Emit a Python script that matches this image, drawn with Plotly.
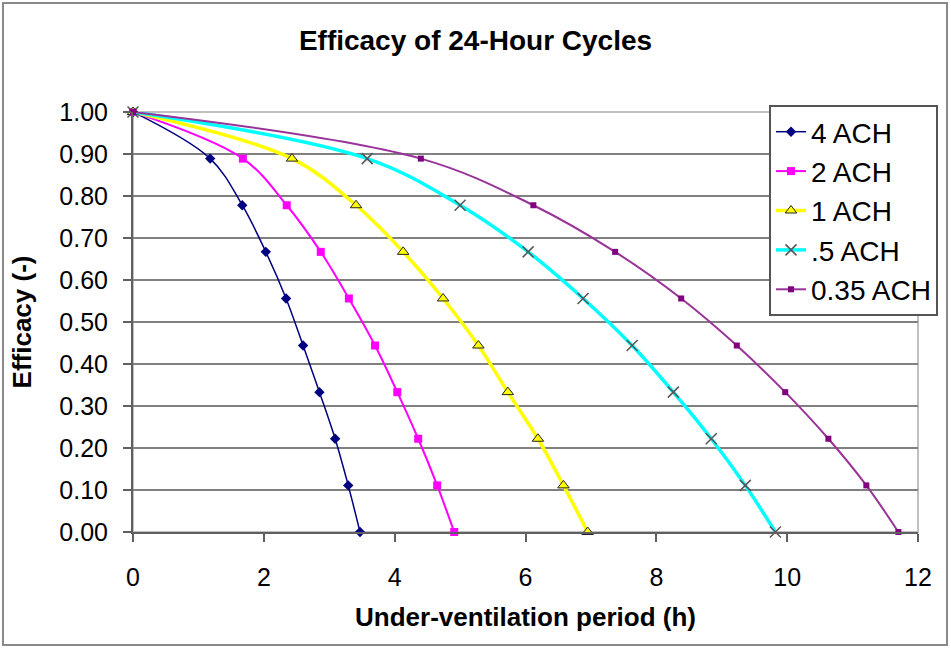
import plotly.graph_objects as go

# efficacy levels shared by all series
efficacy = [1.0, 0.889, 0.778, 0.667, 0.556, 0.444, 0.333, 0.222, 0.111, 0.0]

# under-ventilation period (h) per air change rate
hours_4ach = [0, 1.18, 1.67, 2.03, 2.34, 2.60, 2.85, 3.09, 3.29, 3.47]
hours_2ach = [0, 1.68, 2.35, 2.87, 3.30, 3.70, 4.04, 4.36, 4.65, 4.91]
hours_1ach = [0, 2.43, 3.41, 4.13, 4.74, 5.28, 5.73, 6.19, 6.58, 6.95]
hours_05ach = [0, 3.58, 5.00, 6.04, 6.88, 7.63, 8.26, 8.84, 9.36, 9.82]
hours_035ach = [0, 4.40, 6.12, 7.37, 8.38, 9.23, 9.97, 10.63, 11.21, 11.70]

series_names = ["4 ACH", "2 ACH", "1 ACH", ".5 ACH", "0.35 ACH"]
x_ticks = [0, 2, 4, 6, 8, 10, 12]

FONT = "Liberation Sans, Arial, sans-serif"
W, H = 951, 648
L, R, T, B = 133, 33, 112, 116

styles = [
    dict(line=dict(color="#000080", width=1.5),
         marker=dict(symbol="diamond", size=8, color="#000080")),
    dict(line=dict(color="#FF00FF", width=2),
         marker=dict(symbol="square", size=8, color="#FF00FF")),
    dict(line=dict(color="#FFFF00", width=3.5),
         marker=dict(symbol="triangle-up", size=10, color="#FFFF00",
                     line=dict(color="#222222", width=1))),
    dict(line=dict(color="#00FFFF", width=3.5),
         marker=dict(symbol="x-thin", size=11, color="#00FFFF",
                     line=dict(color="#555555", width=1.5))),
    dict(line=dict(color="#993399", width=2),
         marker=dict(symbol="square", size=6, color="#800080")),
]

fig = go.Figure()
for name, hours, st in zip(
    series_names,
    [hours_4ach, hours_2ach, hours_1ach, hours_05ach, hours_035ach],
    styles,
):
    fig.add_trace(
        go.Scatter(
            x=hours,
            y=efficacy,
            name=name,
            mode="lines+markers",
            line_shape="spline",
            cliponaxis=False,
            **st
        )
    )

pw = W - L - R
ph = H - T - B

# plot area border (light gray) and outer chart frame
fig.add_shape(type="rect", xref="paper", yref="paper", x0=0, x1=1, y0=0, y1=1,
              line=dict(color="#c0c0c0", width=2), layer="below")
fig.add_shape(type="rect", xref="paper", yref="paper",
              x0=(3 - L) / pw, x1=(947 - L) / pw,
              y0=(H - B - 645) / ph, y1=(H - B - 3) / ph,
              line=dict(color="#8a8a8a", width=2))

fig.update_layout(
    width=W,
    height=H,
    margin=dict(l=L, r=R, t=T, b=B, pad=0, autoexpand=False),
    paper_bgcolor="white",
    plot_bgcolor="white",
    font=dict(family=FONT, color="black"),
    title=dict(
        text="<b>Efficacy of 24-Hour Cycles</b>",
        font=dict(size=28, family=FONT),
        x=0.5,
        xanchor="center",
        y=1 - 40 / H,
        yanchor="middle",
    ),
    xaxis=dict(
        range=[0, 12],
        tickvals=x_ticks,
        ticks="outside",
        ticklen=8,
        tickwidth=2,
        tickcolor="#606060",
        ticklabelstandoff=14,
        showgrid=False,
        zeroline=False,
        showline=True,
        linecolor="#606060",
        linewidth=2,
        automargin=False,
        tickfont=dict(size=25),
        title=dict(text="<b>Under-ventilation period (h)</b>",
                   font=dict(size=26), standoff=18),
    ),
    yaxis=dict(
        range=[0, 1],
        dtick=0.1,
        tickformat=".2f",
        ticks="outside",
        ticklen=8,
        tickwidth=2,
        tickcolor="#606060",
        ticklabelstandoff=10,
        showgrid=True,
        gridcolor="#808080",
        gridwidth=1.5,
        zeroline=False,
        showline=True,
        linecolor="#606060",
        linewidth=2,
        automargin=False,
        tickfont=dict(size=25),
        title=dict(text="<b>Efficacy (-)</b>", font=dict(size=26), standoff=20),
    ),
    legend=dict(
        x=(938 - L) / pw,
        xanchor="right",
        y=(H - B - 105) / ph,
        yanchor="top",
        bgcolor="white",
        bordercolor="#555555",
        borderwidth=2,
        font=dict(size=28),
    ),
)

# drop the browser's default body margin so the chart sits at the page origin
fig.write_html(
    "out.html",
    config={"displayModeBar": False},
    post_script="document.body.style.margin='0';",
)
